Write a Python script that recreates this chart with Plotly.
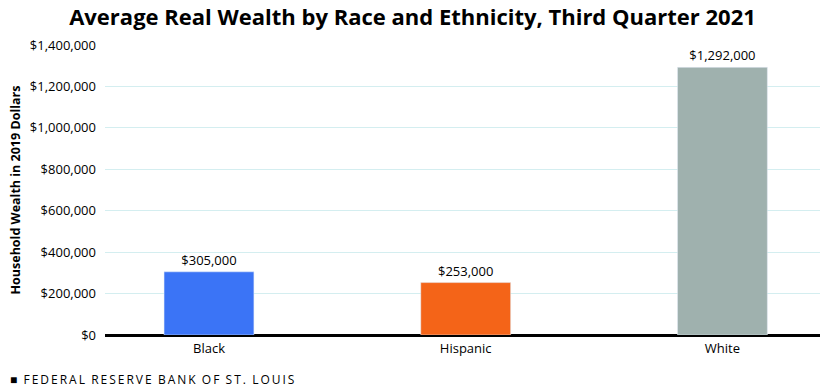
import plotly.graph_objects as go

categories = ["Black", "Hispanic", "White"]
values = [305000, 253000, 1292000]
labels = ["$305,000", "$253,000", "$1,292,000"]
colors = ["#3b74f6", "#f46418", "#9fb1ae"]
tick_vals = [0, 200000, 400000, 600000, 800000, 1000000, 1200000, 1400000]
tick_text = ["$0", "$200,000", "$400,000", "$600,000", "$800,000", "$1,000,000", "$1,200,000", "$1,400,000"]

footer_words = ["FEDERAL", "RESERVE", "BANK", "OF", "ST.", "LOUIS"]
footer = "■  " + "  ".join("\u2009".join(w) for w in footer_words)

fig = go.Figure(go.Bar(
    x=categories, y=values, marker_color=colors, width=0.35,
    text=labels, textposition="outside", cliponaxis=False,
    textfont=dict(family="Open Sans", size=13, color="black"),
))

fig.update_layout(
    width=825, height=388,
    margin=dict(l=105, r=5, t=45, b=53),
    plot_bgcolor="white", paper_bgcolor="white",
    showlegend=False,
    title=dict(text="<b>Average Real Wealth by Race and Ethnicity, Third Quarter 2021</b>",
               x=0.5, xanchor="center", y=0.955, yanchor="middle",
               font=dict(family="Open Sans", size=22, color="black")),
    xaxis=dict(range=[-0.405, 2.38], showgrid=False, ticks="", ticklabelstandoff=4,
               tickfont=dict(family="Open Sans", size=13, color="black")),
    yaxis=dict(range=[0, 1400000], tickvals=tick_vals, ticktext=tick_text,
               gridcolor="#d4eef0", gridwidth=1, zeroline=True, zerolinecolor="black",
               zerolinewidth=2.5, ticks="", ticklabelstandoff=8,
               tickfont=dict(family="Open Sans", size=13, color="black"),
               title=dict(text="<b>Household Wealth in 2019 Dollars</b>", standoff=6,
                          font=dict(family="Open Sans", size=12.5, color="black"))),
    annotations=[dict(text=footer,
                      xref="paper", yref="paper", x=-0.136, y=-0.155, xanchor="left",
                      yanchor="middle", showarrow=False,
                      font=dict(family="Open Sans", size=12, color="black"))],
)

fig.write_html("out.html", config={"displayModeBar": False},
               post_script="document.body.style.margin='0';document.body.style.padding='0';")
